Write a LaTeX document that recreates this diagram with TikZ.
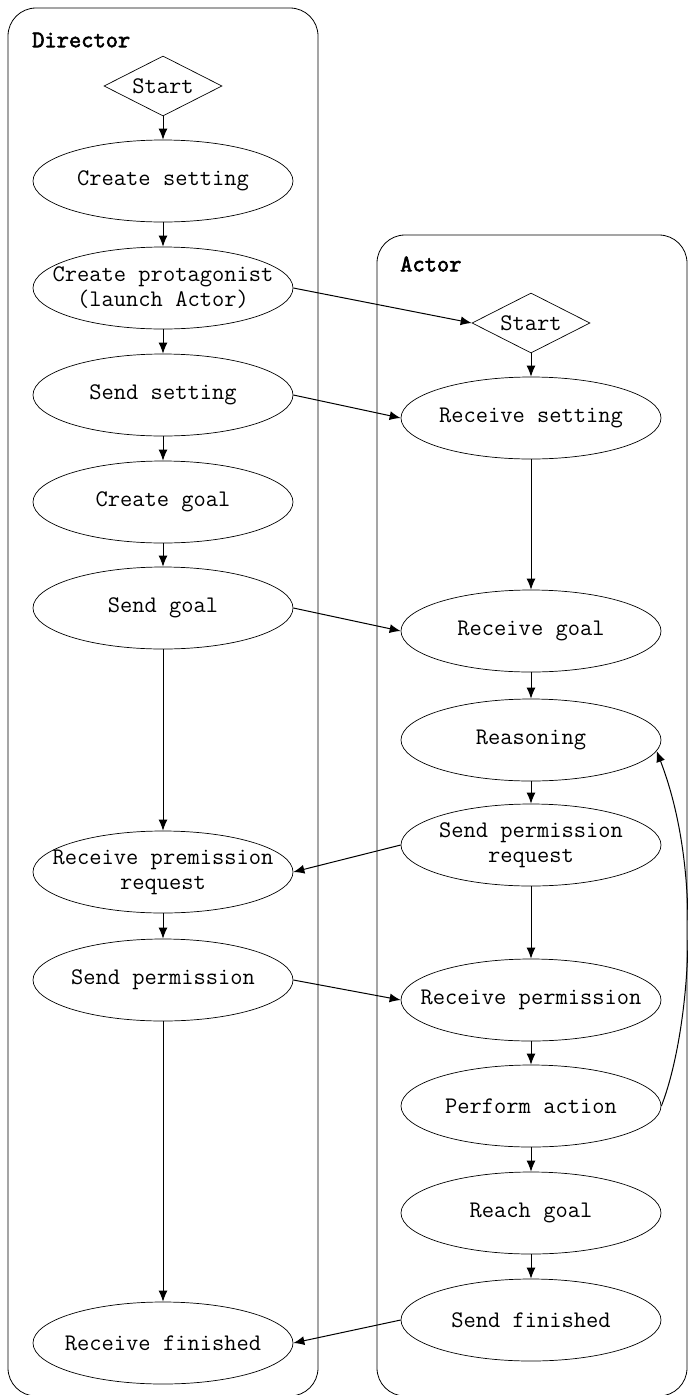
\documentclass[tikz,border=0pt]{standalone}
\usepackage{fontspec}
\newfontfamily\titlefont[FakeBold=2.5]{Latin Modern Mono}
\usetikzlibrary{shapes.geometric,arrows.meta}
\begin{document}
\begin{tikzpicture}[x=1pt,y=-1pt,
  txt/.style={font=\ttfamily\fontsize{23.8}{25}\selectfont},
  ell/.style={ellipse, draw, line width=0.7pt, minimum width=260pt, minimum height=82pt,
              inner sep=0pt, label={[txt,align=center,inner sep=0pt]center:#1}},
  dia/.style={diamond, draw, line width=0.7pt, minimum width=118pt, minimum height=60pt,
              inner sep=0pt},
  lane/.style={draw, line width=0.8pt, rounded corners=28pt},
  arr/.style={-{Latex[length=11pt,width=9pt]}, line width=1pt},
  title/.style={font=\titlefont\fontsize{23.8}{25}\selectfont, anchor=west, inner sep=0pt}]
\useasboundingbox (0,0) rectangle (688,1395);
\clip (0,0) rectangle (688,1395);

% swimlanes
\draw[lane] (8,8) rectangle (318,1396);
\draw[lane] (377,235) rectangle (687,1396);
\node[title] (dirtitle) at (32,40) {Director};
\node[title] (acttitle) at (400,264) {Actor};

% Director lane
\node[dia] (dstart) at (163,86) {};
\node[ell={Create setting}] (dset) at (163,181) {};
\node[ell={Create protagonist\\(launch Actor)}] (dprot) at (163,288) {};
\node[ell={Send setting}] (dsendset) at (163,395) {};
\node[ell={Create goal}] (dgoal) at (163,502) {};
\node[ell={Send goal}] (dsendgoal) at (163,608) {};
\node[ell={Receive premission\\request}] (drecreq) at (163,872) {};
\node[ell={Send permission}] (dsendperm) at (163,980) {};
\node[ell={Receive finished}] (drecfin) at (163,1343) {};

% Actor lane
\node[dia] (astart) at (531,323) {};
\node[ell={Receive setting}] (arecset) at (531,418) {};
\node[ell={Receive goal}] (arecgoal) at (531,631) {};
\node[ell={Reasoning}] (areason) at (531,740) {};
\node[ell={Send permission\\request}] (asendreq) at (531,845) {};
\node[ell={Receive permission}] (arecperm) at (531,1000) {};
\node[ell={Perform action}] (aperform) at (531,1106) {};
\node[ell={Reach goal}] (areach) at (531,1213) {};
\node[ell={Send finished}] (asendfin) at (531,1320) {};

% labels of the start diamonds
\node[txt,inner sep=0pt] (dstartlbl) at (dstart) {Start};
\node[txt,inner sep=0pt] (astartlbl) at (astart) {Start};

% Director flow
\draw[arr] (dstart.south) -- (dset.north);
\draw[arr] (dset.south) -- (dprot.north);
\draw[arr] (dprot.south) -- (dsendset.north);
\draw[arr] (dsendset.south) -- (dgoal.north);
\draw[arr] (dgoal.south) -- (dsendgoal.north);
\draw[arr] (dsendgoal.south) -- (drecreq.north);
\draw[arr] (drecreq.south) -- (dsendperm.north);
\draw[arr] (dsendperm.south) -- (drecfin.north);

% Actor flow
\draw[arr] (astart.south) -- (arecset.north);
\draw[arr] (arecset.south) -- (arecgoal.north);
\draw[arr] (arecgoal.south) -- (areason.north);
\draw[arr] (areason.south) -- (asendreq.north);
\draw[arr] (asendreq.south) -- (arecperm.north);
\draw[arr] (arecperm.south) -- (aperform.north);
\draw[arr] (aperform.south) -- (areach.north);
\draw[arr] (areach.south) -- (asendfin.north);
\draw[arr] (aperform.east) .. controls +(25,-63) and +(50,130) .. (areason.-5);

% messages between lanes
\draw[arr] (dprot.east) -- (astart.west);
\draw[arr] (dsendset.east) -- (arecset.west);
\draw[arr] (dsendgoal.east) -- (arecgoal.west);
\draw[arr] (asendreq.west) -- (drecreq.east);
\draw[arr] (dsendperm.east) -- (arecperm.west);
\draw[arr] (asendfin.west) -- (drecfin.east);
\end{tikzpicture}
\end{document}
